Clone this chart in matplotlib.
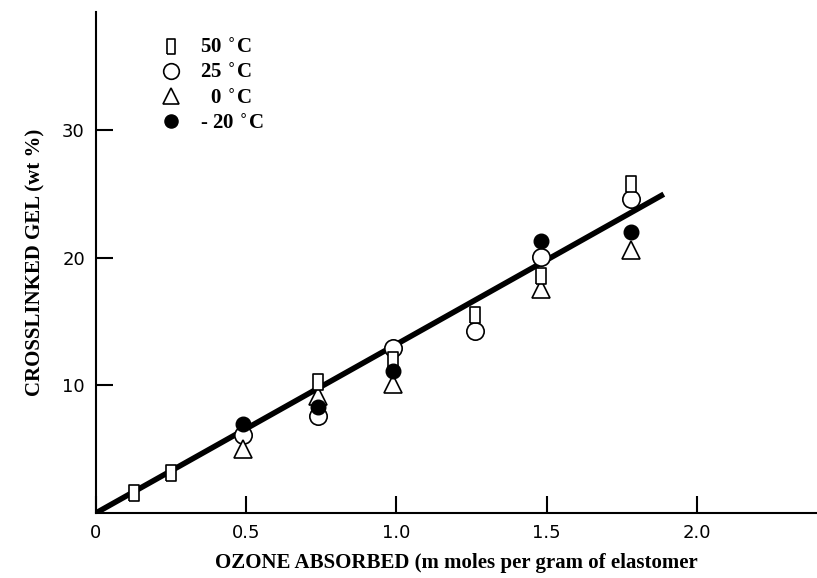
#! python3

import numpy as np
import matplotlib as mpl
mpl.use('Agg')
import matplotlib.pyplot as plt

# data
x50 = [0.125, 0.25, 0.74, 0.99, 1.26, 1.48, 1.78]
y50 = [1.6, 3.1, 10.3, 12.0, 15.5, 18.6, 25.8]
x25 = [0.49, 0.74, 0.99, 1.26, 1.48, 1.78]
y25 = [6.1, 7.6, 12.9, 14.3, 20.1, 24.6]
x0 = [0.49, 0.74, 0.99, 1.48, 1.78]
y0 = [5.0, 9.2, 10.1, 17.6, 20.6]
xm20 = [0.49, 0.74, 0.99, 1.48, 1.78]
ym20 = [7.0, 8.3, 11.1, 21.3, 22.0]
fit_x = [0.0, 1.89]
fit_y = [0.0, 25.0]
xticks = [0, 0.5, 1.0, 1.5, 2.0]
xticklabels = ['0', '0.5', '1.0', '1.5', '2.0']
yticks = [10, 20, 30]

def run():
  rect = [(-0.55, -1), (0.55, -1), (0.55, 1), (-0.55, 1), (-0.55, -1)]
  serif = 'Liberation Serif'
  fig = plt.figure(figsize=(8.17, 5.78), dpi=100)
  ax = fig.add_axes([0.1175, 0.1125, 0.8825, 0.867])
  ax.plot(fit_x, fit_y, color='black', lw=4, solid_capstyle='butt', zorder=1)
  ax.plot(x50, y50, ls='none', marker=rect, markersize=12, mfc='white', mec='black', mew=1.2, label='50 $^{\\circ}$C', zorder=3)
  ax.plot(x25, y25, ls='none', marker='o', markersize=12.5, mfc='white', mec='black', mew=1.2, label='25 $^{\\circ}$C', zorder=2)
  ax.plot(x0, y0, ls='none', marker='^', markersize=12.5, mfc='white', mec='black', mew=1.2, label='  0 $^{\\circ}$C', zorder=2)
  ax.plot(xm20, ym20, ls='none', marker='o', markersize=10.5, mfc='black', mec='black', label='- 20 $^{\\circ}$C', zorder=4)
  ax.set_xlim(0, 2.4)
  ax.set_ylim(0, 39.3)
  ax.set_xticks(xticks)
  ax.set_xticklabels(xticklabels)
  ax.set_yticks(yticks)
  for s in ['top', 'right']:
    ax.spines[s].set_visible(False)
  for s in ['left', 'bottom']:
    ax.spines[s].set_linewidth(1.5)
  ax.tick_params(direction='in', length=12, width=1.5, labelsize=13, pad=8)
  ax.set_xlabel('OZONE ABSORBED (m moles per gram of elastomer', fontsize=15,
                fontweight='bold', family=serif, labelpad=8)
  ax.set_ylabel('CROSSLINKED GEL (wt %)', fontsize=15, fontweight='bold',
                family=serif, labelpad=12)
  leg = ax.legend(loc='upper left', bbox_to_anchor=(0.06, 0.985), frameon=False,
                  prop={'family': serif, 'weight': 'bold', 'size': 15},
                  handletextpad=0.8, labelspacing=0.25, handlelength=1.2,
                  markerscale=0.9)
  fig.savefig('out.png', dpi=100)

if __name__ == '__main__':
  run()
